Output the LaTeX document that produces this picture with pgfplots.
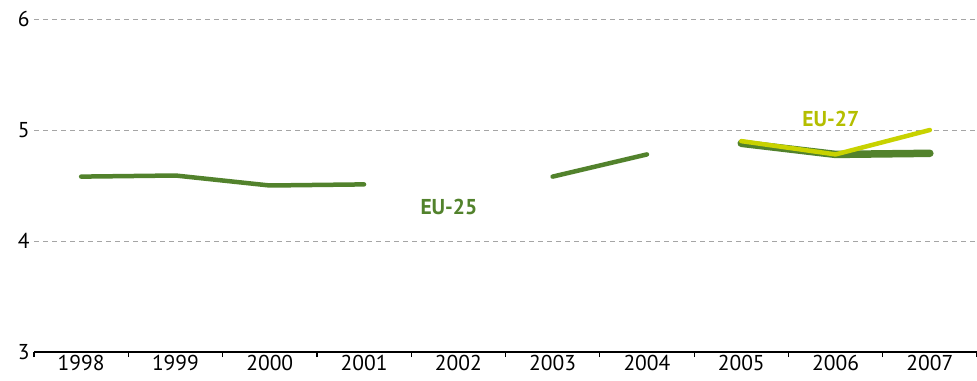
\documentclass[border=0pt]{standalone}
\usepackage{fontspec}
\setmainfont{PT Sans}
\usepackage{pgfplots}
\pgfplotsset{compat=1.18}
\definecolor{dkgreen}{RGB}{82,130,44}
\definecolor{ylgreen}{RGB}{200,210,0}
\definecolor{yltext}{RGB}{180,190,0}
\definecolor{gridgray}{RGB}{165,165,165}
\begin{document}
\begin{tikzpicture}
\begin{axis}[name=ax,
  scale only axis, width=943bp, height=333bp,
  xmin=-0.5, xmax=9.5, ymin=3, ymax=6,
  axis lines*=left,
  y axis line style={draw=none},
  x axis line style={line width=1.6bp, black},
  xtick={0,...,9},
  xticklabels={1998,1999,2000,2001,2002,2003,2004,2005,2006,2007},
  minor xtick={-0.5,0.5,...,9.5},
  major tick length=0pt,
  minor tick length=5bp,
  tick align=outside,
  minor tick style={line width=1.2bp, black},
  ytick={3,4,5,6},
  ytick style={draw=none},
  ymajorgrids,
  grid style={gridgray, dashed, line width=0.9bp, dash pattern=on 5bp off 4bp},
  /pgf/number format/assume math mode=true,
  tick label style={font=\fontsize{21.5bp}{24bp}\selectfont},
  xticklabel style={yshift=0bp},
  yticklabel style={xshift=-1bp},
  clip=false,
]
\addplot[dkgreen, line width=4.5bp, line cap=round, line join=round] coordinates {(0,4.58) (1,4.59) (2,4.50) (3,4.51)};
\addplot[dkgreen, line width=4.5bp, line cap=round, line join=round] coordinates {(5,4.58) (6,4.78)};
\addplot[dkgreen, line width=7.5bp, line cap=round, line join=round] coordinates {(7,4.88) (8,4.78) (9,4.79)};
\addplot[ylgreen, line width=4.5bp, line cap=round, line join=round] coordinates {(7,4.90) (8,4.78) (9,5.00)};
\node[dkgreen, font=\bfseries\fontsize{21.5bp}{24bp}\selectfont] at (axis cs:3.9,4.31) {EU-25};
\node[yltext, font=\bfseries\fontsize{21.5bp}{24bp}\selectfont] at (axis cs:7.95,5.1) {EU-27};
\end{axis}
\pgfresetboundingbox
\path[use as bounding box] ([xshift=-34bp,yshift=-29bp]ax.south west) rectangle ([yshift=19bp]ax.north east);
\end{tikzpicture}
\end{document}
